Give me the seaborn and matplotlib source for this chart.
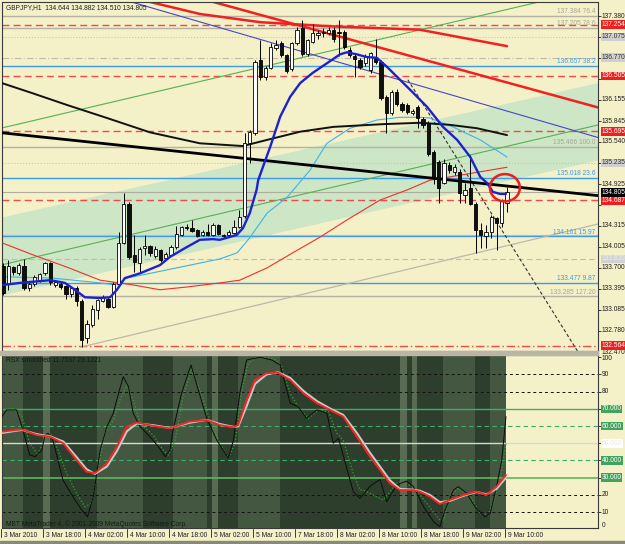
import numpy as np
import matplotlib
matplotlib.use("Agg")
import matplotlib.pyplot as plt
import matplotlib.transforms as mtransforms
from matplotlib.patches import Ellipse, Rectangle
import seaborn as sns

# -----------------------------
# DATA (x = bar index, 1 bar = 1 hour)
# -----------------------------
opens = [133.72, 133.47, 133.71, 133.62, 133.72, 133.40, 133.47, 133.52, 133.62, 133.77,
         133.45, 133.47, 133.43, 133.32, 133.40, 133.21, 132.67, 132.86, 133.08, 133.22,
         133.25, 133.13, 133.47, 134.07, 134.64, 133.89, 133.77, 133.99, 134.02, 133.88,
         133.96, 133.84, 133.89, 134.00, 134.18, 134.30, 134.28, 134.25, 134.18, 134.23,
         134.18, 134.32, 134.18, 134.18, 134.21, 134.30, 134.46, 135.52, 135.67, 136.74,
         136.49, 136.62, 136.91, 136.98, 136.81, 136.60, 136.98, 137.20, 136.83, 137.00,
         137.10, 137.13, 137.13, 137.18, 137.15, 137.15, 136.88, 136.79, 136.74, 136.69,
         136.59, 136.76, 136.71, 136.20, 135.96, 136.27, 136.10, 136.08, 135.96, 136.05,
         135.88, 135.81, 135.40, 135.25, 134.94, 135.20, 135.10, 135.10, 134.77, 134.86,
         134.64, 134.25, 134.16, 134.23, 134.43, 134.35, 134.644]
highs = [133.77, 133.82, 133.73, 133.77, 133.83, 133.49, 133.60, 133.63, 133.79, 133.79,
         133.52, 133.50, 133.45, 133.44, 133.44, 133.24, 132.94, 133.15, 133.25, 133.30,
         133.28, 133.50, 134.23, 134.80, 134.66, 134.18, 134.00, 134.18, 134.04, 134.02,
         133.98, 133.93, 134.03, 134.31, 134.31, 134.34, 134.40, 134.27, 134.25, 134.34,
         134.35, 134.34, 134.20, 134.25, 134.40, 134.55, 135.67, 135.72, 136.74, 137.03,
         136.65, 136.99, 137.03, 137.01, 136.83, 137.00, 137.22, 137.32, 137.05, 137.27,
         137.18, 137.20, 137.22, 137.22, 137.32, 137.18, 136.93, 136.84, 136.77, 136.82,
         136.86, 137.04, 136.74, 136.23, 136.30, 136.31, 136.12, 136.11, 136.02, 136.08,
         135.90, 135.84, 135.42, 135.28, 135.29, 135.25, 135.22, 135.14, 134.94, 135.35,
         134.66, 134.35, 134.33, 134.47, 134.45, 134.70, 134.882]
lows = [133.30, 133.38, 133.60, 133.60, 133.38, 133.36, 133.44, 133.50, 133.60, 133.45,
        133.42, 133.39, 133.25, 133.28, 133.14, 132.55, 132.60, 132.84, 132.95, 133.20,
        133.12, 133.11, 133.45, 134.05, 133.83, 133.64, 133.62, 133.89, 133.88, 133.85,
        133.78, 133.82, 133.87, 133.98, 134.16, 134.25, 134.22, 134.15, 134.16, 134.16,
        134.16, 134.18, 134.13, 134.16, 134.19, 134.28, 134.43, 135.23, 135.64, 136.45,
        136.45, 136.60, 136.89, 136.78, 136.55, 136.58, 136.95, 136.80, 136.80, 136.98,
        137.05, 137.08, 137.10, 137.00, 136.79, 136.90, 136.78, 136.49, 136.60, 136.65,
        136.55, 136.68, 136.15, 135.67, 135.93, 136.07, 135.98, 135.95, 135.93, 135.74,
        135.75, 135.34, 134.93, 134.65, 134.93, 135.08, 135.05, 134.65, 134.65, 134.62,
        133.91, 133.99, 133.99, 134.14, 133.96, 134.30, 134.510]
closes = [133.33, 133.72, 133.64, 133.74, 133.40, 133.47, 133.57, 133.61, 133.77, 133.50,
          133.49, 133.42, 133.32, 133.40, 133.21, 132.65, 132.88, 133.10, 133.23, 133.28,
          133.13, 133.47, 134.07, 134.64, 133.86, 133.79, 133.97, 134.02, 133.91, 133.98,
          133.81, 133.90, 134.00, 134.20, 134.29, 134.28, 134.24, 134.17, 134.23, 134.18,
          134.33, 134.20, 134.16, 134.23, 134.30, 134.45, 135.52, 135.69, 136.71, 136.49,
          136.62, 136.93, 136.96, 136.81, 136.57, 136.98, 137.18, 136.83, 137.03, 137.13,
          137.13, 137.15, 137.18, 137.05, 137.13, 136.93, 136.81, 136.75, 136.64, 136.79,
          136.84, 136.71, 136.18, 135.96, 136.27, 136.10, 136.01, 135.98, 135.99, 135.89,
          135.79, 135.37, 135.03, 134.87, 135.23, 135.13, 135.18, 134.79, 134.84, 134.64,
          134.25, 134.18, 134.23, 134.45, 134.35, 134.67, 134.805]

# moving averages (bar, price)
ma_fast_bar = [0, 3.2, 9.0, 11.8, 13.7, 15.6, 18.5, 20.4, 21.7, 23.2, 26.1, 29.9, 31.8, 34.7,
               37.5, 40.0, 41.3, 44.5, 45.7, 47.0, 48.3, 48.6, 49.3, 50.9, 52.8, 54.7, 56.6,
               59.0, 61.7, 64.2, 65.5, 67.4, 69.3, 71.2, 73.1, 75.6, 78.1, 80.8, 83.8, 86.5,
               89.0, 90.9, 92.2, 93.3, 94.7, 95.8]
ma_fast_val = [133.45, 133.48, 133.52, 133.48, 133.38, 133.27, 133.26, 133.27, 133.38, 133.55,
               133.62, 133.74, 133.86, 133.99, 134.11, 134.12, 134.11, 134.18, 134.28, 134.50,
               134.84, 134.98, 135.13, 135.47, 135.91, 136.20, 136.40, 136.55, 136.69, 136.82,
               136.85, 136.82, 136.78, 136.77, 136.64, 136.45, 136.26, 136.05, 135.76, 135.57,
               135.32, 135.03, 134.94, 134.81, 134.78, 134.78]
ma_mid_bar = [0, 9.5, 18.5, 21.3, 23.6, 31.2, 41.3, 44.6, 47.0, 50.3, 54.1, 58.5, 61.7, 66.1,
              71.2, 75.6, 79.4, 81.3, 85.7, 90.9, 96.0]
ma_mid_val = [133.57, 133.55, 133.48, 133.45, 133.55, 133.67, 133.83, 133.92, 134.14, 134.50,
              134.73, 135.13, 135.52, 135.74, 135.86, 135.90, 135.90, 135.89, 135.76, 135.57,
              135.32]
ma_slow_bar = [0, 5.7, 12.2, 18.5, 24.8, 29.9, 35.0, 41.3, 45.1, 50.3, 55.2, 60.4, 65.5, 71.8,
               77.0, 81.3, 96.0]
ma_slow_val = [134.06, 133.89, 133.71, 133.52, 133.45, 133.38, 133.42, 133.48, 133.52, 133.70,
               133.92, 134.15, 134.40, 134.69, 134.84, 134.98, 135.17]
ma_long_bar = [-0.6, 5.7, 12.2, 19.8, 28.0, 37.5, 45.7, 50.3, 56.6, 62.9, 72.4, 79.4, 85.1,
               90.3, 96.0]
ma_long_val = [136.41, 136.25, 136.08, 135.89, 135.68, 135.52, 135.48, 135.57, 135.69, 135.76,
               135.80, 135.82, 135.79, 135.74, 135.64]

# drawn objects (bar, price)
band_bar = [-1, 114]
band_top = [134.43, 136.42]
band_bot = [133.29, 135.29]
green_hi = [135.73, 137.80]
green_lo = [133.73, 135.80]
black_trend = [135.68, 134.75]
red_trend_bar = [37, 114]
red_trend_val = [137.65, 136.03]
red_curve_bar = [26.7, 37.5, 49.0, 62.3, 79.4, 96.0]
red_curve_val = [137.61, 137.41, 137.29, 137.23, 137.18, 136.94]
blue_trend_bar = [22, 114]
blue_trend_val = [137.64, 135.59]
gray_trend_bar = [14.7, 113.3]
gray_trend_val = [132.54, 134.34]
dash_trend_bar = [77.1, 111]
dash_trend_val = [136.45, 132.29]

fib_prices = [137.384, 137.205, 136.657, 135.466, 135.018, 134.161, 133.477, 133.285]
fib_texts = ["137.384 76.4", "137.205 78.6", "136.657 38.2", "135.466 100.0",
             "135.018 23.6", "134.161 15.97", "133.477 9.87", "133.285 127.20"]
fib_blue = [False, False, True, False, True, True, True, False]
red_levels = [137.254, 136.505, 135.695, 134.687]
red_dashdot = 132.564
gray_levels = [137.075, 136.770, 135.235, 133.830]
bid = 134.805
price_ticks = [137.380, 137.075, 136.770, 136.465, 136.155, 135.845, 135.540, 135.235,
               134.925, 134.620, 134.315, 134.005, 133.700, 133.395, 133.085, 132.780, 132.470]
# scale labels hidden behind a boxed line label in the chart
hidden_ticks = [137.075, 136.770, 136.465, 135.235, 134.620]

# oscillator sub window (bar, value)
osc_bar = [-0.2, 0.7, 2.6, 3.8, 5.1, 6.1, 7.4, 8.0, 8.6, 9.5, 11.4, 13.3, 15.0, 16.1, 17.2,
           18.5, 19.8, 21.0, 22.0, 22.9, 23.9, 24.8, 26.1, 28.0, 29.6, 30.9, 31.8, 32.4, 34.0,
           35.8, 37.2, 38.8, 40.7, 42.9, 43.9, 45.1, 46.4, 49.0, 51.2, 52.8, 54.7, 56.2, 57.8,
           59.8, 61.7, 62.9, 63.9, 66.7, 68.0, 69.9, 71.8, 73.1, 75.0, 76.9, 78.2, 80.1, 82.0,
           83.2, 84.2, 85.8, 86.7, 88.3, 89.9, 91.8, 92.8, 94.0, 95.0, 95.8]
osc_val = [65.5, 69.4, 69.4, 57.7, 43.2, 42.2, 46.1, 54.8, 55.8, 51.9, 28.7, 19.0, 11.2, 7.3,
           19.0, 46.1, 59.7, 67.4, 79.0, 88.7, 82.9, 67.4, 59.7, 53.8, 48.0, 42.2, 46.1, 57.7,
           79.0, 95.5, 81.0, 64.5, 51.9, 41.3, 51.9, 79.0, 98.4, 100.0, 98.4, 95.5, 73.3, 71.3,
           64.5, 69.4, 67.4, 50.0, 52.9, 22.0, 18.0, 25.0, 29.0, 16.0, 26.0, 28.0, 24.8, 13.1,
           4.4, 1.5, 11.2, 22.8, 24.8, 21.0, 13.1, 7.3, 9.3, 24.8, 40.3, 65.5]
sig_bar = [-0.2, 2.0, 3.6, 5.1, 6.7, 8.0, 9.0, 10.5, 12.1, 14.0, 15.6, 16.9, 18.2, 19.4, 21.0,
           22.3, 23.6, 24.8, 26.1, 28.6, 30.5, 31.5, 32.8, 34.3, 35.9, 37.8, 39.4, 41.3, 42.9,
           44.2, 45.5, 46.7, 48.3, 51.5, 53.1, 54.7, 56.6, 58.2, 60.1, 62.0, 63.6, 64.8, 66.7,
           68.0, 68.6, 72.4, 75.3, 78.2, 80.7, 83.2, 83.9, 85.1, 86.7, 88.9, 90.9, 92.4, 93.7,
           94.7, 95.8]
sig_val = [69.4, 70.3, 65.5, 50.0, 43.2, 53.8, 55.8, 46.1, 32.6, 21.0, 13.1, 15.1, 36.4, 55.8,
           63.5, 75.2, 83.9, 75.2, 61.6, 54.8, 46.1, 43.2, 51.9, 77.1, 92.6, 79.0, 63.5, 50.0,
           41.3, 50.0, 81.0, 96.5, 100.0, 99.4, 94.5, 79.0, 69.4, 64.5, 69.4, 68.4, 55.8, 51.9,
           32.6, 22.8, 22.8, 17.0, 27.7, 24.8, 15.1, 5.4, 5.4, 19.0, 23.8, 19.0, 9.3, 8.3, 19.0,
           28.7, 50.0]
smooth_bar = [-0.2, 3.6, 6.4, 9.0, 11.5, 14.0, 15.9, 17.5, 19.8, 21.7, 23.6, 25.5, 28.6, 31.8,
              35.6, 38.8, 41.3, 43.9, 44.8, 46.4, 48.0, 50.2, 52.4, 54.7, 57.2, 59.8, 62.3,
              64.8, 67.4, 69.9, 71.8, 73.7, 75.6, 78.2, 79.4, 81.3, 83.2, 85.1, 87.7, 90.2,
              92.1, 94.0, 95.8]
smooth_red = [56.7, 58.1, 54.8, 53.8, 50.0, 40.3, 33.5, 32.6, 38.4, 48.0, 59.7, 62.0, 60.1,
              58.7, 62.6, 63.5, 60.6, 59.3, 60.6, 75.2, 86.8, 90.7, 91.0, 86.8, 79.0, 73.3,
              69.4, 65.5, 53.8, 42.2, 34.5, 26.7, 22.8, 22.8, 21.9, 19.0, 14.7, 17.0, 19.9,
              21.9, 19.9, 24.8, 31.6]
smooth_gray = [56.0, 57.8, 55.3, 54.0, 51.0, 42.0, 35.0, 32.2, 36.5, 45.5, 57.0, 61.5, 60.5,
               58.9, 62.0, 63.6, 61.2, 59.5, 59.8, 71.5, 84.5, 90.0, 91.2, 88.0, 80.5, 74.5,
               70.2, 66.5, 56.0, 44.5, 36.5, 28.5, 23.5, 23.0, 22.4, 20.0, 15.8, 16.5, 19.5,
               21.7, 20.3, 23.5, 30.0]

# background session shading in the sub window: (start bar, end bar, shade)
shade_start = [-0.2, 3.8, 7.6, 9.0, 17.9, 26.7, 32.4, 38.9, 39.8, 41.0, 44.8, 52.8, 75.6,
               77.0, 77.9, 78.9, 83.8, 89.9, 92.8]
shade_end = [3.8, 7.6, 9.0, 17.9, 26.7, 32.4, 38.9, 39.8, 41.0, 44.8, 52.8, 75.6, 77.0,
             77.9, 78.9, 83.8, 89.9, 92.8, 95.9]
shade_kind = ["m", "d", "l", "d", "m", "d", "m", "d", "l", "d", "m", "d", "l", "d", "l", "d",
              "m", "d", "m"]

date_bars = [0, 8, 16, 24, 32, 40, 48, 56, 64, 72, 80, 88, 96]
date_labels = ["3 Mar 2010", "3 Mar 18:00", "4 Mar 02:00", "4 Mar 10:00", "4 Mar 18:00",
               "5 Mar 02:00", "5 Mar 10:00", "7 Mar 18:00", "8 Mar 02:00", "8 Mar 10:00",
               "8 Mar 18:00", "9 Mar 02:00", "9 Mar 10:00"]

# -----------------------------
# STYLE
# -----------------------------
sns.set_theme(style="white")
plt.rcParams['font.family'] = ['Liberation Sans', 'DejaVu Sans']

BG = "#f4f0c8"
BAND = "#cde6c5"
FS = 4.8
W, H = 625, 544


def box(x0, y0, x1, y1):
    return [x0 / W, 1 - y1 / H, (x1 - x0) / W, (y1 - y0) / H]


fig = plt.figure(figsize=(6.25, 5.44), dpi=100)
fig.patch.set_facecolor(BG)
ax = fig.add_axes(box(2, 2, 598, 351))
sub = fig.add_axes(box(2, 355, 598, 528))
fig.patches.append(Rectangle((0, 1 - 355 / H), 598 / W, 4 / H, transform=fig.transFigure,
                             color="#b9b6a6", zorder=0))
fig.patches.append(Rectangle((0, 0), 1, 3 / H, transform=fig.transFigure,
                             color="#8a8878", zorder=0))

XLIM = (-0.19, 113.33)
LBL = 1.006   # x of the right-hand scale labels (axes fraction)

# -----------------------------
# MAIN PRICE WINDOW
# -----------------------------
ax.set_facecolor(BG)
ax.set_xlim(*XLIM)
ax.set_ylim(132.485, 137.585)

ax.fill_between(band_bar, band_bot, band_top, color=BAND, lw=0, zorder=0.5)

for p, b in zip(fib_prices, fib_blue):
    col = "#3d9be9" if b else "#b5b1a2"
    ax.axhline(p, color=col, lw=1.0, zorder=1)
for p in red_levels:
    ax.axhline(p, color="#f04a4a", lw=1.0, ls=(0, (5, 3)), zorder=1)
ax.axhline(red_dashdot, color="#f04a4a", lw=1.0, ls=(0, (6, 2, 1, 2)), zorder=1)
ax.axhline(gray_levels[0], color="#c8c4b4", lw=0.8, ls=":", zorder=1)
ax.axhline(gray_levels[1], color="#c0bcac", lw=0.8, ls=(0, (6, 2, 1, 2)), zorder=1)
ax.axhline(gray_levels[2], color="#c8c4b4", lw=0.8, ls=":", zorder=1)
ax.axhline(gray_levels[3], color="#c0bcac", lw=0.8, ls=(0, (5, 3)), zorder=1)
ax.axhline(bid, color="#b0aca0", lw=0.8, zorder=1)
ax.axhline(134.18, color="#bdb9aa", lw=0.8, zorder=1)

sns.lineplot(x=band_bar, y=green_hi, ax=ax, color="#55b055", lw=0.8, zorder=2)
sns.lineplot(x=band_bar, y=green_lo, ax=ax, color="#55b055", lw=0.8, zorder=2)
sns.lineplot(x=gray_trend_bar, y=gray_trend_val, ax=ax, color="#bcb8aa", lw=0.9, zorder=2)
sns.lineplot(x=blue_trend_bar, y=blue_trend_val, ax=ax, color="#4646c8", lw=0.8, zorder=2)
sns.lineplot(x=red_curve_bar, y=red_curve_val, ax=ax, color="#f22020", lw=1.8, zorder=2)
sns.lineplot(x=red_trend_bar, y=red_trend_val, ax=ax, color="#f22020", lw=1.8, zorder=2)
sns.lineplot(x=dash_trend_bar, y=dash_trend_val, ax=ax, color="#333333", lw=0.8,
             ls=(0, (3, 2)), zorder=2)

sns.lineplot(x=ma_slow_bar, y=ma_slow_val, ax=ax, color="#ee3030", lw=0.8, zorder=3)
sns.lineplot(x=ma_mid_bar, y=ma_mid_val, ax=ax, color="#3fb2ea", lw=0.8, zorder=3)
sns.lineplot(x=ma_long_bar, y=ma_long_val, ax=ax, color="#111111", lw=1.4, zorder=3)
sns.lineplot(x=band_bar, y=black_trend, ax=ax, color="#000000", lw=2.0, zorder=3)

# candles
bars = np.arange(len(opens))
o = np.array(opens)
c = np.array(closes)
ax.vlines(bars, lows, highs, color="#000000", lw=0.7, zorder=4)
up = c >= o
bottoms = np.minimum(o, c)
heights = np.maximum(np.abs(c - o), 0.012)
ax.bar(bars[up], heights[up], bottom=bottoms[up], width=0.6, color="white",
       edgecolor="black", lw=0.6, zorder=5)
ax.bar(bars[~up], heights[~up], bottom=bottoms[~up], width=0.6, color="#101010",
       edgecolor="black", lw=0.6, zorder=5)

sns.lineplot(x=ma_fast_bar, y=ma_fast_val, ax=ax, color="#1c22d0", lw=1.7, zorder=6)

ax.add_patch(Ellipse((95.6, 134.87), 5.7, 0.40, fill=False, ec="#ee1c1c", lw=1.8, zorder=7))

# labels inside at right end of fib lines
for p, t, b in zip(fib_prices, fib_texts, fib_blue):
    col = "#3d9be9" if b else "#aaa697"
    ax.text(112.9, p + 0.01, t, ha="right", va="bottom", fontsize=FS, color=col, zorder=8)

ax.text(0.6, 137.50, "GBPJPY,H1  134.644 134.882 134.510 134.805", fontsize=FS,
        color="#202020", va="center", ha="left", zorder=9)

# price scale
ax.set_xticks([])
ax.yaxis.tick_right()
ax.set_yticks([t for t in price_ticks if t > 132.485])
ax.set_yticklabels([])
ax.tick_params(axis="y", length=2.5, width=0.6, color="#202020", right=True, left=False)
tr = mtransforms.blended_transform_factory(ax.transAxes, ax.transData)
for p in price_ticks:
    if p in hidden_ticks:
        continue
    ax.text(LBL, p, f"{p:.3f}", transform=tr, fontsize=FS, color="#202020",
            va="center", ha="left", clip_on=False)
for p in gray_levels[:3]:
    ax.text(LBL, p, f"{p:.3f}", transform=tr, fontsize=FS, color="#303030", va="center",
            ha="left", clip_on=False,
            bbox=dict(boxstyle="square,pad=0.12", fc="#cfcfcf", ec="none"))
ax.text(LBL, gray_levels[3], f"{gray_levels[3]:.3f}", transform=tr, fontsize=FS,
        color="#ececec", va="center", ha="left", clip_on=False,
        bbox=dict(boxstyle="square,pad=0.12", fc="#d2d2d2", ec="none"))
for p in red_levels + [red_dashdot]:
    ax.text(LBL, p, f"{p:.3f}", transform=tr, fontsize=FS, color="white", va="center",
            ha="left", clip_on=False,
            bbox=dict(boxstyle="square,pad=0.12", fc="#f01e1e", ec="none"))
ax.text(LBL, bid, f"{bid:.3f}", transform=tr, fontsize=FS, color="white", va="center",
        ha="left", clip_on=False,
        bbox=dict(boxstyle="square,pad=0.12", fc="#000000", ec="none"))

for s in ax.spines.values():
    s.set_color("#3a3a3a")
    s.set_linewidth(0.8)

# -----------------------------
# OSCILLATOR WINDOW
# -----------------------------
sub.set_facecolor(BG)
sub.set_xlim(*XLIM)
sub.set_ylim(0.76, 101.3)
shade_col = {"d": "#2d3f2c", "m": "#445841", "l": "#5a6b53"}
for a, b, k in zip(shade_start, shade_end, shade_kind):
    sub.axvspan(a, b, color=shade_col[k], lw=0, zorder=0.5)

for lv in [90, 80, 20, 10]:
    sub.axhline(lv, color="#111111", lw=0.7, ls=(0, (3, 3)), zorder=1)
for lv in [60, 40]:
    sub.axhline(lv, color="#3dae6a", lw=0.8, ls=(0, (4, 3)), zorder=1)
sub.axhline(70, color="#3dae6a", lw=1.0, zorder=1)
sub.axhline(30, color="#5cb85c", lw=1.2, zorder=1)
sub.axhline(50, color="#d8d8d8", lw=1.0, zorder=1)

sns.lineplot(x=sig_bar, y=sig_val, ax=sub, color="#2ea82e", lw=0.9, ls=":", zorder=2)
sns.lineplot(x=osc_bar, y=osc_val, ax=sub, color="#0c0c0c", lw=0.7, zorder=3)
sns.lineplot(x=smooth_bar, y=smooth_gray, ax=sub, color="#c8c8c8", lw=1.5, zorder=3)
sns.lineplot(x=smooth_bar, y=smooth_red, ax=sub, color="#ff2020", lw=1.3, zorder=4)

sub.text(0.6, 98.0, "RSX smoothed 11.7537 29.1221", fontsize=FS, color="#141a14",
         va="center", ha="left", zorder=6)
sub.text(0.6, 3.0, "MBT MetaTrader 4, \u00a9 2001-2009 MetaQuotes Software Corp.",
         fontsize=FS, color="#141a14", va="center", ha="left", zorder=6)

sub.set_xticks([])
sub.yaxis.tick_right()
sub.set_yticks([100, 90, 80, 70, 60, 50, 40, 30, 20, 10])
sub.set_yticklabels([])
sub.tick_params(axis="y", length=2.5, width=0.6, color="#202020", right=True, left=False)
trs = mtransforms.blended_transform_factory(sub.transAxes, sub.transData)
for lv, txt in [(99.0, "100"), (90, "90"), (80, "80"), (20, "20"), (10, "10"), (2.5, "0")]:
    sub.text(LBL, lv, txt, transform=trs, fontsize=FS, color="#202020",
             va="center", ha="left", clip_on=False)
for lv in [70, 60, 40, 30]:
    sub.text(LBL, lv, f"{lv:.3f}", transform=trs, fontsize=FS, color="white",
             va="center", ha="left", clip_on=False,
             bbox=dict(boxstyle="square,pad=0.12", fc="#41a35e", ec="none"))
sub.text(LBL, 50, "50.000", transform=trs, fontsize=FS, color="#e8e8e8", va="center",
         ha="left", clip_on=False,
         bbox=dict(boxstyle="square,pad=0.12", fc="white", ec="none"))

trd = mtransforms.blended_transform_factory(sub.transData, sub.transAxes)
for b, lab in zip(date_bars, date_labels):
    sub.plot([b - 0.3, b - 0.3], [-0.005, -0.05], transform=trd, color="#202020",
             lw=0.6, clip_on=False)
    sub.text(b + 0.1, -0.045, lab, transform=trd, fontsize=FS, color="#202020",
             va="center", ha="left", clip_on=False)

for s in sub.spines.values():
    s.set_color("#3a3a3a")
    s.set_linewidth(0.8)

fig.savefig("out.png", dpi=100, facecolor=fig.get_facecolor())
